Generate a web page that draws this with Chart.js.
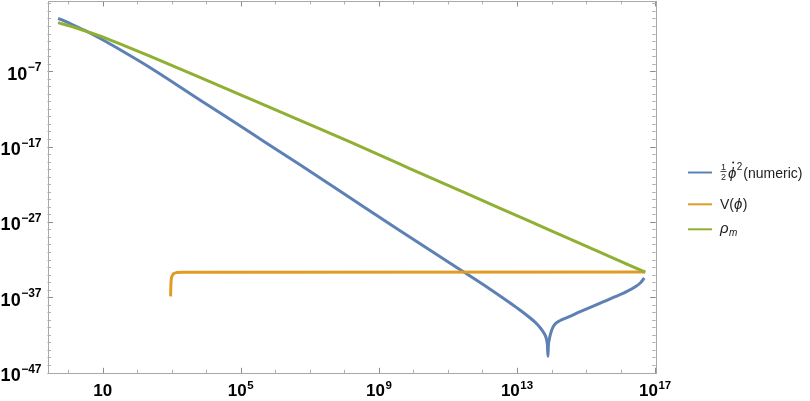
<!DOCTYPE html>
<html>
<head>
<meta charset="utf-8">
<script src="https://cdn.jsdelivr.net/npm/chart.js@4/dist/chart.umd.min.js"></script>
<style>
html,body{margin:0;padding:0;background:#fff;}
#wrap{width:810px;height:401px;position:relative;}
</style>
</head>
<body>
<div id="wrap"><canvas id="c" width="810" height="401"></canvas></div>
<script>
// ---- data (log-log plot) ----
const kineticTime = [0.513, 1.12, 3.05, 8.30, 43.9, 233, 6.56e3, 1.85e5, 5.20e6, 1.46e8, 4.11e9, 1.16e11, 1.67e12,
  6.35e12, 1.24e13, 2.42e13, 3.78e13, 5.02e13, 6.14e13, 7.01e13, 7.60e13, 7.87e13, 8.13e13, 8.57e13, 9.16e13,
  1.01e14, 1.14e14, 1.37e14, 1.79e14, 2.79e14, 6.79e14, 2.58e15, 7.01e15, 1.53e16, 2.67e16, 3.72e16, 4.86e16];
const kineticDensity = [1.07, 0.219, 2.58e-2, 2.38e-3, 3.11e-5, 3.19e-7, 1.56e-11, 7.64e-16, 3.74e-20, 1.57e-24, 6.61e-29, 3.23e-33, 1.15e-36,
  1.70e-38, 1.89e-39, 1.74e-40, 2.79e-41, 6.05e-42, 1.53e-42, 3.65e-43, 4.31e-44, 1.41e-45, 4.31e-44, 2.31e-43, 9.12e-43,
  4.20e-42, 1.43e-41, 3.91e-41, 8.13e-41, 1.91e-40, 1.19e-39, 1.70e-38, 1.16e-37, 5.87e-37, 2.47e-36, 7.64e-36, 3.52e-35];

const potentialTime = [929, 942, 968, 1033, 1159, 1416, 2113, 5.20e16];
const potentialDensity = [1.28e-37, 2.47e-36, 2.09e-35, 7.10e-35, 1.39e-34, 1.89e-34, 2.13e-34, 2.15e-34];

const matterTime = [0.513, 1.56, 3.41, 8.30, 43.9, 233, 6.56e3, 3.61e5, 5.20e6, 1.46e8, 4.11e9, 1.56e10, 3.26e12, 9.16e13, 2.58e15, 5.20e16];
const matterDensity = [0.279, 6.44e-2, 1.90e-2, 4.81e-3, 2.26e-4, 9.75e-6, 1.51e-8, 5.70e-12, 2.99e-14, 4.20e-17, 4.63e-20, 2.96e-21, 6.37e-26, 7.69e-29, 9.29e-32, 2.10e-34];

const xLabelExponents = [1, 5, 9, 13, 17];
const yLabelExponents = [-47, -37, -27, -17, -7];
const xMinorExponents = [0,1,2,3,4,5,6,7,8,9,10,11,12,13,14,15,16,17];
const yMinorExponents = [-47,-46,-45,-44,-43,-42,-41,-40,-39,-38,-37,-36,-35,-34,-33,-32,-31,-30,-29,-28,-27,-26,-25,-24,-23,-22,-21,-20,-19,-18,-17,-16,-15,-14,-13,-12,-11,-10,-9,-8,-7,-6,-5,-4,-3,-2,-1,0,1,2];

const xRange = [0.253, 1.04e17];
const yRange = [7.94e-48, 209];

const COLORS = { kinetic: '#5E81B5', potential: '#E19C24', matter: '#8FB032' };

const pairs = (xs, ys) => xs.map((v, i) => ({ x: v, y: ys[i] }));

const FONT = '"Liberation Sans", Arial, sans-serif';
const PHI = '\u03D5';

function drawPower(ctx, exp, x, baseY, align, baseSize, expSize, rise) {
  const base = '10';
  const e = exp === 1 ? '' : String(exp).replace('-', '\u2212');
  ctx.font = `bold ${baseSize}px ${FONT}`;
  const wb = ctx.measureText(base).width;
  ctx.font = `bold ${expSize}px ${FONT}`;
  const we = e ? ctx.measureText(e).width + 0.5 : 0;
  const total = wb + we;
  const sx = align === 'right' ? x - total : x - total / 2;
  ctx.fillStyle = '#000';
  ctx.textAlign = 'left';
  ctx.textBaseline = 'alphabetic';
  ctx.font = `bold ${baseSize}px ${FONT}`;
  ctx.fillText(base, sx, baseY);
  if (e) {
    ctx.font = `bold ${expSize}px ${FONT}`;
    ctx.fillText(e, sx + wb + 0.5, baseY - rise);
  }
}

const framePlugin = {
  id: 'mmaFrame',
  beforeDatasetsDraw(chart) {
    const { ctx, chartArea: a, scales } = chart;
    const xs = scales.x, ys = scales.y;
    ctx.save();
    ctx.lineWidth = 1;
    xMinorExponents.forEach(k => {
      const px = Math.round(xs.getPixelForValue(Math.pow(10, k))) + 0.5;
      if (px < a.left || px > a.right + 1) return;
      const major = xLabelExponents.includes(k);
      const len = major ? 5.5 : 3.5;
      ctx.strokeStyle = major ? '#8c8c8c' : '#b0b0b0';
      ctx.beginPath();
      ctx.moveTo(px, a.bottom); ctx.lineTo(px, a.bottom - len);
      ctx.moveTo(px, a.top); ctx.lineTo(px, a.top + len);
      ctx.stroke();
    });
    yMinorExponents.forEach(k => {
      const py = Math.round(ys.getPixelForValue(Math.pow(10, k))) + 0.5;
      if (py < a.top - 1 || py > a.bottom + 1) return;
      const major = yLabelExponents.includes(k);
      const len = major ? 5.5 : 3.5;
      ctx.strokeStyle = major ? '#8c8c8c' : '#b0b0b0';
      ctx.beginPath();
      ctx.moveTo(a.left, py); ctx.lineTo(a.left + len, py);
      ctx.moveTo(a.right, py); ctx.lineTo(a.right - len, py);
      ctx.stroke();
    });
    ctx.strokeStyle = '#a8a8a8';
    ctx.strokeRect(Math.round(a.left) + 0.5, Math.round(a.top) + 0.5,
      Math.round(a.right - a.left), Math.round(a.bottom - a.top));
    ctx.restore();
  },
  afterDraw(chart) {
    const { ctx, chartArea: a, scales } = chart;
    const xs = scales.x, ys = scales.y;
    ctx.save();
    yLabelExponents.forEach(k => {
      const py = ys.getPixelForValue(Math.pow(10, k));
      drawPower(ctx, k, a.left - 6, py + 8.5, 'right', 18, 12, 8.5);
    });
    xLabelExponents.forEach(k => {
      const px = xs.getPixelForValue(Math.pow(10, k));
      drawPower(ctx, k, px, a.bottom + 23, 'center', 17, 11.5, 7.5);
    });
    // legend
    const lx0 = 688, lx1 = 712, tx = 720;
    ctx.lineWidth = 2;
    ctx.textBaseline = 'alphabetic';
    ctx.textAlign = 'left';
    let yy = 172.5;
    ctx.strokeStyle = COLORS.kinetic;
    ctx.beginPath(); ctx.moveTo(lx0, yy); ctx.lineTo(lx1, yy); ctx.stroke();
    ctx.fillStyle = '#222';
    ctx.font = `9px ${FONT}`;
    ctx.textAlign = 'center';
    ctx.fillText('1', tx + 3.5, yy - 3);
    ctx.fillText('2', tx + 3.5, yy + 7);
    ctx.fillRect(tx + 0.5, yy - 1.5, 6, 0.8);
    ctx.textAlign = 'left';
    ctx.font = `italic 15px ${FONT}`;
    ctx.fillText(PHI, tx + 8, yy + 5);
    let pw = ctx.measureText(PHI).width;
    ctx.beginPath(); ctx.arc(tx + 8 + pw * 0.62, yy - 10, 1.0, 0, Math.PI * 2); ctx.fill();
    ctx.font = `10px ${FONT}`;
    ctx.fillText('2', tx + 8 + pw + 0.5, yy - 3);
    ctx.font = `14px ${FONT}`;
    ctx.fillText('(numeric)', tx + 8 + pw + 7, yy + 5);
    yy = 204.3;
    ctx.strokeStyle = COLORS.potential;
    ctx.beginPath(); ctx.moveTo(lx0, yy); ctx.lineTo(lx1, yy); ctx.stroke();
    ctx.font = `14px ${FONT}`;
    ctx.fillText('V(', tx, yy + 5);
    let w = ctx.measureText('V(').width;
    ctx.font = `italic 15px ${FONT}`;
    ctx.fillText(PHI, tx + w, yy + 5);
    w += ctx.measureText(PHI).width;
    ctx.font = `14px ${FONT}`;
    ctx.fillText(')', tx + w + 0.5, yy + 5);
    yy = 229.3;
    ctx.strokeStyle = COLORS.matter;
    ctx.beginPath(); ctx.moveTo(lx0, yy); ctx.lineTo(lx1, yy); ctx.stroke();
    ctx.font = `italic 15px ${FONT}`;
    ctx.fillText('\u03C1', tx, yy + 4);
    w = ctx.measureText('\u03C1').width;
    ctx.font = `italic 10px ${FONT}`;
    ctx.fillText('m', tx + w + 0.5, yy + 7);
    ctx.restore();
  }
};

const ds = (label, xsArr, ysArr, color, order) => ({
  label, data: pairs(xsArr, ysArr), borderColor: color, backgroundColor: color,
  borderWidth: 3, pointRadius: 0, showLine: true, fill: false,
  cubicInterpolationMode: 'monotone', order, borderCapStyle: 'butt', borderJoinStyle: 'round'
});

new Chart(document.getElementById('c'), {
  type: 'scatter',
  data: {
    datasets: [
      ds('½ ϕ̇² (numeric)', kineticTime, kineticDensity, COLORS.kinetic, 3),
      ds('V(ϕ)', potentialTime, potentialDensity, COLORS.potential, 2),
      ds('ρm', matterTime, matterDensity, COLORS.matter, 1)
    ]
  },
  options: {
    responsive: false, animation: false, devicePixelRatio: 1,
    layout: { padding: { left: 47.5, right: 154.3, top: 1, bottom: 27.7 } },
    plugins: { legend: { display: false }, tooltip: { enabled: false } },
    scales: {
      x: { type: 'logarithmic', min: xRange[0], max: xRange[1], display: false },
      y: { type: 'logarithmic', min: yRange[0], max: yRange[1], display: false }
    }
  },
  plugins: [framePlugin]
});
</script>
</body>
</html>
